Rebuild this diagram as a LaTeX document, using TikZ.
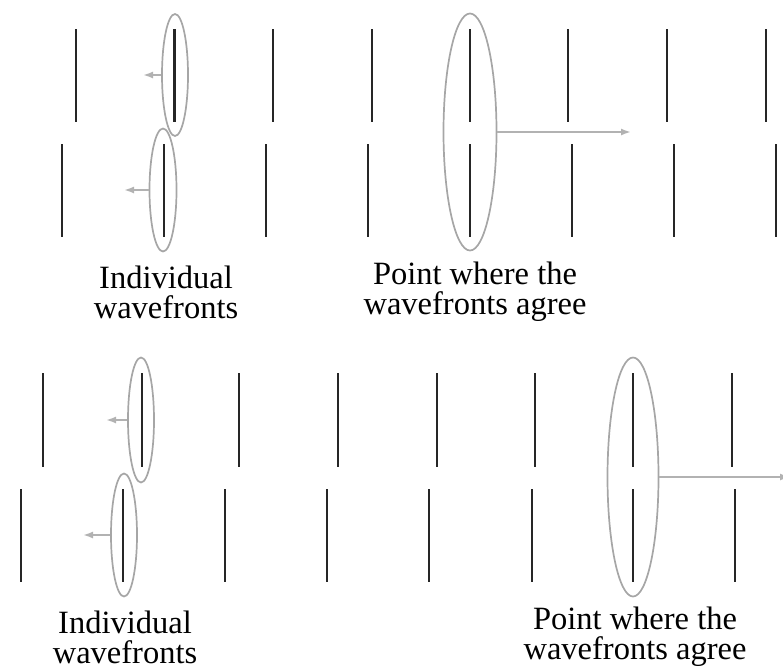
\documentclass[tikz,border=0pt]{standalone}
\usepackage{fontspec}
\setmainfont{Liberation Serif}
\usetikzlibrary{shapes.geometric, arrows.meta}
\tikzset{
  front/.style = {draw=black!85, line width=2.3pt},
  lens/.style = {ellipse, draw=black!35, line width=1.7pt, inner sep=0pt},
  push/.style = {-{Latex[length=10pt,width=7pt]}, draw=black!30, line width=1.8pt},
  caption/.style = {align=center, font=\fontsize{32.5}{30}\selectfont, inner sep=0pt}
}

\begin{document}
\begin{tikzpicture}[x=1pt, y=-1pt]
\clip (0,0) rectangle (783,670);

% upper panel: wavefronts
\foreach \px in {76,174.5,273,372,470,568,667,766}
  \draw[front] (\px,29) -- (\px,122);
\foreach \px in {62,164,266,368,470,572,674,776}
  \draw[front] (\px,144) -- (\px,237);

% lower panel: wavefronts
\foreach \px in {43,142,239,338,437,535,633,732}
  \draw[front] (\px,373) -- (\px,467);
\foreach \px in {21,123,225,327,429,532,633,735}
  \draw[front] (\px,489) -- (\px,582);

% rings
\node[lens, minimum width=26pt, minimum height=122pt] (up1) at (175,75) {};
\node[lens, minimum width=27pt, minimum height=123pt] (up2) at (163,190) {};
\node[lens, minimum width=53pt, minimum height=237pt] (upsum) at (470,132) {};
\node[lens, minimum width=26pt, minimum height=125pt] (lo1) at (141,420) {};
\node[lens, minimum width=26pt, minimum height=123pt] (lo2) at (124,535) {};
\node[lens, minimum width=51pt, minimum height=239pt] (losum) at (633,477) {};

\coordinate (up1end) at (143,75);
\coordinate (up2end) at (124,190);
\coordinate (upsumend) at (631,132);
\coordinate (lo1end) at (106,420);
\coordinate (lo2end) at (83,535);
\coordinate (losumend) at (790,477);

\draw[push] (up1.west) -- (up1end);
\draw[push] (up2.west) -- (up2end);
\draw[push] (upsum.east) -- (upsumend);
\draw[push] (lo1.west) -- (lo1end);
\draw[push] (lo2.west) -- (lo2end);
\draw[push] (losum.east) -- (losumend);

% captions
\node[caption] (upind) at (166,292) {Individual\\wavefronts};
\node[caption] (upagree) at (475,292) {Point where the\\wavefronts agree};
\node[caption] (loind) at (125,637) {Individual\\wavefronts};
\node[caption] (loagree) at (635,637) {Point where the\\wavefronts agree};
\end{tikzpicture}
\end{document}
